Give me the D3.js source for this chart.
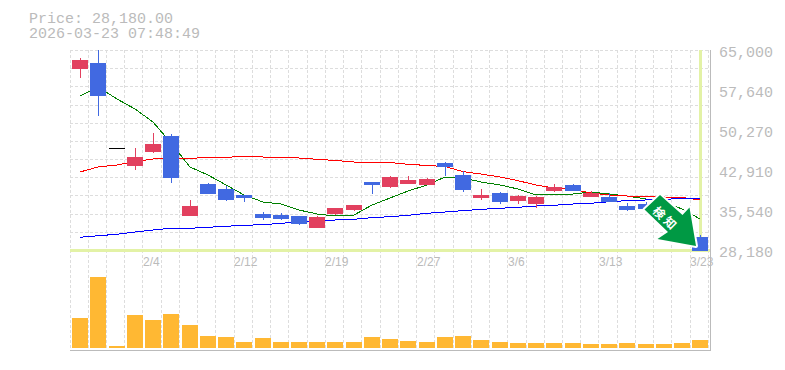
<!DOCTYPE html>
<html>
<head>
<meta charset="utf-8">
<script src="https://cdn.jsdelivr.net/npm/d3@7"></script>
<style>
  html, body { margin: 0; padding: 0; background: #fff; }
  svg { display: block; }
  text { font-family: "Liberation Mono", "DejaVu Sans Mono", monospace; fill: #bbb; }
</style>
</head>
<body>
<div id="chart"></div>
<script type="text/javascript">
  var dates = ["1/29","1/30","2/2","2/3","2/4","2/5","2/6","2/9","2/10","2/12","2/13","2/16","2/17","2/18","2/19","2/20","2/24","2/25","2/26","2/27","3/2","3/3","3/4","3/5","3/6","3/9","3/10","3/11","3/12","3/13","3/16","3/17","3/18","3/19","3/23"];
  var dateTicks = ["2/4","2/12","2/19","2/27","3/6","3/13","3/23"];
  var priceTicks = [65000,57640,50270,42910,35540,28180];

  var opens = [61690,62610,46900,43830,46410,49170,34620,40330,39410,38310,34810,34620,34440,32410,34990,35730,40610,39960,40520,40330,44200,41990,37940,38670,37390,36830,39230,40150,38120,37940,36280,36650,36000,33600,30570];
  var highs = [63530,65000,46900,46960,49720,49540,37390,40520,39960,38310,35180,34990,34440,34440,35910,36460,40700,41800,41800,41440,44380,42720,39410,38860,38310,38120,40330,40330,39040,38670,36830,37000,36300,33800,30940];
  var lows = [59850,52850,46900,42910,46040,40520,34620,38670,37200,37020,33700,33700,32780,32410,34620,35360,38490,39590,40330,40150,41800,38860,37390,36650,36650,35910,38860,39040,37940,37200,35360,35700,35200,32300,28180];
  var closes = [63160,56720,46900,45300,47700,41620,36280,38670,37570,37940,34260,34070,33150,34260,35910,36460,40330,41620,41070,41250,43640,39410,38310,37200,38120,37940,39780,39230,38670,37200,35730,35910,35400,32500,28180];

  var maShort = [56530,58190,55980,54140,51750,47880,43460,41990,40150,38310,37020,36650,35540,34810,34440,34620,36460,37750,39040,40150,41620,41440,40700,40150,39410,38310,38310,38490,38860,38490,38120,37570,37020,35730,33890];
  var maMid = [42540,43460,43830,44440,44930,45120,45060,45210,45250,45390,45300,45250,45120,44880,44660,44380,44290,44290,43960,43740,43550,42600,42170,41620,40940,40150,39590,39360,38670,38310,38120,37990,37940,37850,37390];
  var maLong = [30520,30810,31070,31490,31860,32180,32180,32360,32540,32730,32840,33100,33340,33650,33700,33830,34130,34310,34570,34940,35180,35420,35670,35860,36040,36280,36410,36650,36780,37070,37260,37390,37480,37700,37700];

  var volumes = [300,710,20,330,280,340,230,120,110,60,100,60,60,60,60,60,110,90,70,60,110,120,80,60,50,50,50,50,40,40,50,40,40,50,80];

  var lastPrice = "Price: 28,180.00";
  var timestamp = "2026-03-23 07:48:49";
  var arrowLabel = "検知";

  var width = 785, height = 370;
  var plot = {left: 70, right: 710, top: 50, priceBottom: 250, volBottom: 348, bottom: 350};
  var upColor = "#e2405f", downColor = "#4169e1";

  var svg = d3.select("#chart").append("svg")
      .attr("width", width)
      .attr("height", height);

  // one band per trading day
  var x = d3.scaleBand()
      .domain(dates)
      .range([plot.left, plot.left + 35 * 18.24]);
  var y = d3.scaleLinear()
      .domain([28180, 65000])
      .range([plot.priceBottom, plot.top]);
  var yVol = d3.scaleLinear()
      .domain([0, 710])
      .range([plot.volBottom, plot.volBottom - 71]);
  var mid = function(d) { return Math.round(x(d) + x.bandwidth() / 2) + 1; };

  // grid
  var grid = svg.append("g").attr("shape-rendering", "crispEdges")
      .attr("stroke", "#ddd").attr("stroke-dasharray", "3,2");
  d3.range(0, 12).forEach(function(i) {
    var gy = Math.round(plot.top + i * 200 / 11) + 0.5;
    grid.append("line").attr("x1", plot.left).attr("x2", plot.right).attr("y1", gy).attr("y2", gy);
  });
  dates.forEach(function(d) {
    var gx = Math.floor(x(d)) + 0.5;
    grid.append("line").attr("x1", gx).attr("x2", gx).attr("y1", plot.top).attr("y2", plot.bottom);
  });
  var lastX = Math.floor(x.range()[1]) + 0.5;
  grid.append("line").attr("x1", lastX).attr("x2", lastX).attr("y1", plot.top).attr("y2", plot.bottom);

  // crosshair on the last price
  var cross = svg.append("g").attr("shape-rendering", "crispEdges").attr("stroke", "#e3f2a6").attr("stroke-width", 3);
  cross.append("line").attr("x1", mid("3/23") + 0.5).attr("x2", mid("3/23") + 0.5).attr("y1", plot.top).attr("y2", y(28180));
  cross.append("line").attr("x1", plot.left).attr("x2", plot.right).attr("y1", y(28180) + 0.5).attr("y2", y(28180) + 0.5);

  // axis lines
  var axis = svg.append("g").attr("shape-rendering", "crispEdges").attr("stroke", "#bbb");
  axis.append("line").attr("x1", plot.right + 0.5).attr("x2", plot.right + 0.5).attr("y1", plot.top).attr("y2", plot.bottom + 1);
  axis.append("line").attr("x1", plot.left).attr("x2", plot.right).attr("y1", plot.bottom + 0.5).attr("y2", plot.bottom + 0.5);

  // moving averages
  var ma = d3.line()
      .x(function(d, i) { return mid(dates[i]); })
      .y(function(d) { return y(d); });
  [[maShort, "#008000"], [maMid, "#ff0000"], [maLong, "#0000ff"]].forEach(function(s) {
    svg.append("path")
        .attr("d", ma(s[0]))
        .attr("fill", "none")
        .attr("stroke", s[1])
        .attr("stroke-width", 1)
        .attr("shape-rendering", "crispEdges");
  });

  // candles
  var candles = svg.append("g").attr("shape-rendering", "crispEdges");
  dates.forEach(function(d, i) {
    var up = closes[i] >= opens[i];
    var col = closes[i] == opens[i] ? "#000" : (up ? upColor : downColor);
    var top = y(Math.max(opens[i], closes[i]));
    var bot = y(Math.min(opens[i], closes[i]));
    candles.append("line")
        .attr("x1", mid(d) + 0.5).attr("x2", mid(d) + 0.5)
        .attr("y1", y(highs[i])).attr("y2", y(lows[i]))
        .attr("stroke", col);
    candles.append("rect")
        .attr("x", mid(d) - 8)
        .attr("y", top)
        .attr("width", 16)
        .attr("height", Math.max(1, bot - top + 1))
        .attr("fill", col);
  });

  // volume
  svg.append("g").attr("shape-rendering", "crispEdges").selectAll("rect")
      .data(volumes)
      .join("rect")
      .attr("x", function(d, i) { return mid(dates[i]) - 8; })
      .attr("y", function(d) { return yVol(d); })
      .attr("width", 16)
      .attr("height", function(d) { return plot.volBottom - yVol(d); })
      .attr("fill", "#ffb833");

  // labels
  svg.append("text").attr("x", 29).attr("y", 23).style("font-size", "15px").text(lastPrice);
  svg.append("text").attr("x", 29).attr("y", 38).style("font-size", "15px").text(timestamp);
  priceTicks.forEach(function(t) {
    svg.append("text")
        .attr("x", 719)
        .attr("y", y(t) + 7)
        .style("font-size", "15px")
        .text(d3.format(",")(t));
  });
  dateTicks.forEach(function(t) {
    svg.append("text")
        .attr("x", mid(t) - 10)
        .attr("y", 266)
        .style("font-family", "'Liberation Sans', sans-serif")
        .style("font-size", "12px")
        .text(t);
  });

  // arrow badge pointing at the last candle
  svg.append("path")
      .attr("d", "M660,195L644.5,209.5L668,232L657.5,239L696,246L689.5,207.5L682.5,215Z")
      .attr("fill", "#009944")
      .attr("stroke", "#fff")
      .attr("stroke-width", 4)
      .attr("stroke-linejoin", "round")
      .attr("paint-order", "stroke");
  arrowLabel.split("").forEach(function(c, i) {
    svg.append("text")
        .attr("transform", "translate(" + (660 + i * 11) + "," + (212 + i * 10) + ") rotate(45)")
        .attr("text-anchor", "middle")
        .attr("dominant-baseline", "central")
        .style("font-family", "'Noto Sans CJK JP', sans-serif")
        .style("font-size", "12px")
        .style("font-weight", "700")
        .style("fill", "#fff")
        .text(c);
  });
</script>
</body>
</html>
